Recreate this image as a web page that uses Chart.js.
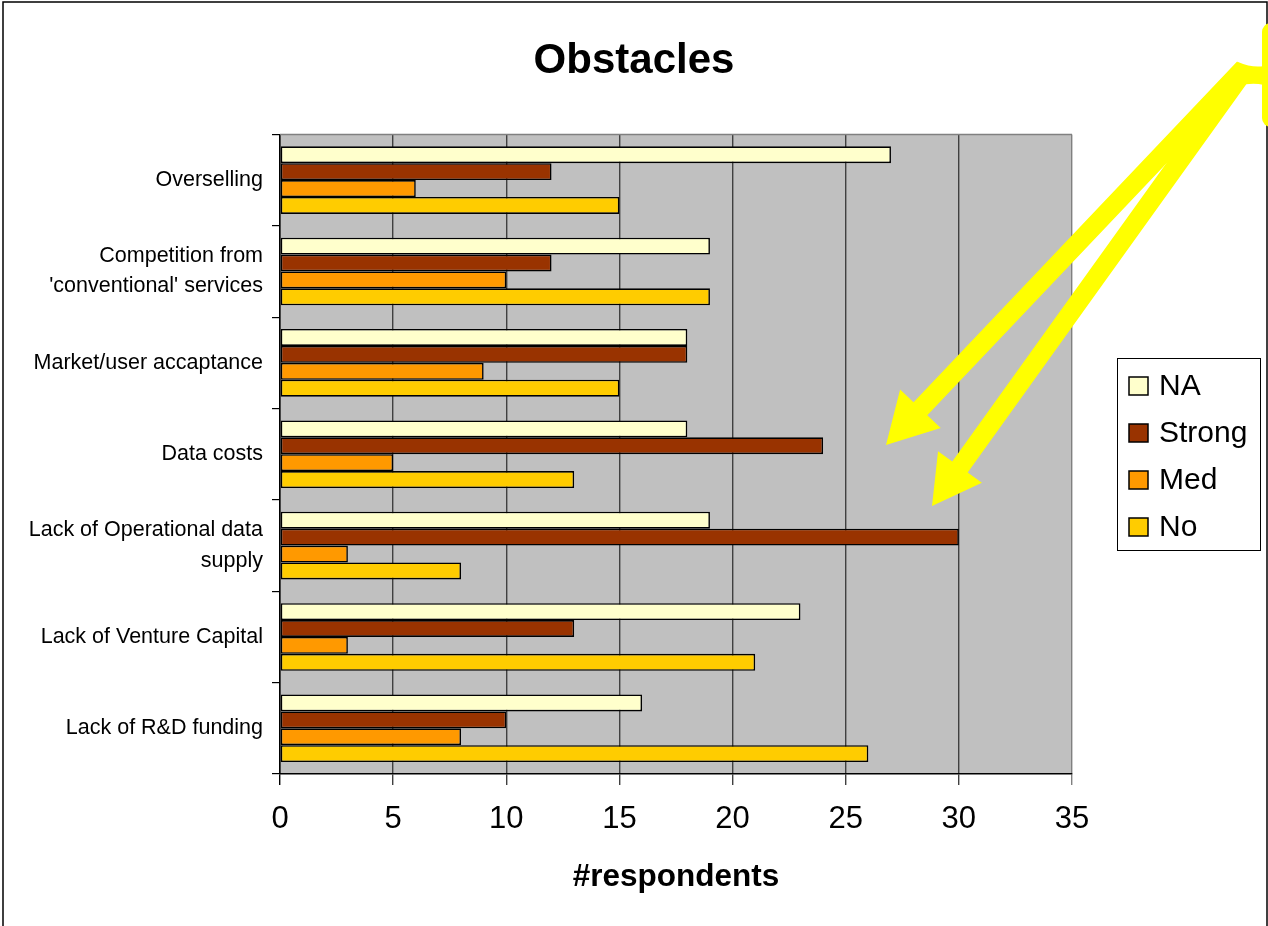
<!DOCTYPE html>
<html>
<head>
<meta charset="utf-8">
<title>Obstacles</title>
<script src="https://cdn.jsdelivr.net/npm/chart.js@4/dist/chart.umd.min.js"></script>
<style>
  html, body { margin: 0; padding: 0; background: #fff; }
  canvas { display: block; }
</style>
</head>
<body>
<canvas id="chart" width="1268" height="926"></canvas>
<script>
// Obstacles reported by respondents, counted per rating
const categories = [
  'Overselling',
  ['Competition from', "'conventional' services"],
  'Market/user accaptance',
  'Data costs',
  ['Lack of Operational data', 'supply'],
  'Lack of Venture Capital',
  'Lack of R&D funding'
];
const seriesNames = ['NA', 'Strong', 'Med', 'No'];
const naValues     = [27, 19, 18, 18, 19, 23, 16];
const strongValues = [12, 12, 18, 24, 30, 13, 10];
const medValues    = [ 6, 10,  9,  5,  3,  3,  8];
const noValues     = [15, 19, 15, 13,  8, 21, 26];
const xTicks = [0, 5, 10, 15, 20, 25, 30, 35];

const seriesColors = ['#FFFFCC', '#993300', '#FF9900', '#FFCC00'];
const FONT = "'Liberation Sans', Arial, Helvetica, sans-serif";

Chart.defaults.font.family = FONT;
Chart.defaults.color = '#000';

// Grey plot area, frame and page border
const frame = {
  id: 'frame',
  beforeDraw(chart) {
    const { ctx, chartArea: a } = chart;
    ctx.save();
    ctx.fillStyle = '#fff';
    ctx.fillRect(0, 0, chart.width, chart.height);
    ctx.fillStyle = '#C0C0C0';
    ctx.fillRect(a.left, a.top, a.right - a.left, a.bottom - a.top);
    ctx.restore();
  },
  beforeDatasetsDraw(chart) {
    const { ctx, chartArea: a } = chart;
    ctx.save();
    ctx.strokeStyle = '#808080';
    ctx.lineWidth = 1.5;
    ctx.beginPath();
    ctx.moveTo(a.left, a.top);
    ctx.lineTo(a.right, a.top);
    ctx.stroke();
    ctx.restore();
  },
  afterDraw(chart) {
    const { ctx } = chart;
    ctx.save();
    ctx.strokeStyle = '#000';
    ctx.lineWidth = 1.5;
    ctx.strokeRect(3, 2, chart.width - 4, chart.height + 10);
    ctx.restore();
  }
};

// Boxed legend on the right
const boxLegend = {
  id: 'boxLegend',
  afterDraw(chart) {
    const { ctx } = chart;
    const x = 1117.5, y = 358.5, w = 143, h = 192;
    ctx.save();
    ctx.fillStyle = '#fff';
    ctx.fillRect(x, y, w, h);
    ctx.strokeStyle = '#000';
    ctx.lineWidth = 1;
    ctx.strokeRect(x, y, w, h);
    ctx.font = '30px ' + FONT;
    ctx.textBaseline = 'middle';
    chart.data.datasets.forEach((ds, i) => {
      const cy = 386 + i * 47;
      ctx.fillStyle = ds.backgroundColor;
      ctx.fillRect(1129, cy - 9, 19, 18);
      ctx.lineWidth = 1.5;
      ctx.strokeStyle = '#000';
      ctx.strokeRect(1129, cy - 9, 19, 18);
      ctx.fillStyle = '#000';
      ctx.fillText(ds.label, 1159, cy + 1);
    });
    ctx.restore();
  }
};

// Yellow callout arrows pointing into the chart
function arrow(ctx, x0, y0, tx, ty, shaftW, headLen, headW) {
  const dx = tx - x0, dy = ty - y0;
  const len = Math.hypot(dx, dy);
  const ux = dx / len, uy = dy / len;
  const px = -uy, py = ux;
  const bx = tx - ux * headLen, by = ty - uy * headLen;
  ctx.beginPath();
  ctx.moveTo(x0 + px * shaftW / 2, y0 + py * shaftW / 2);
  ctx.lineTo(bx + px * shaftW / 2, by + py * shaftW / 2);
  ctx.lineTo(bx + px * headW / 2, by + py * headW / 2);
  ctx.lineTo(tx, ty);
  ctx.lineTo(bx - px * headW / 2, by - py * headW / 2);
  ctx.lineTo(bx - px * shaftW / 2, by - py * shaftW / 2);
  ctx.lineTo(x0 - px * shaftW / 2, y0 - py * shaftW / 2);
  ctx.closePath();
  ctx.fill();
}

const callout = {
  id: 'callout',
  afterDraw(chart) {
    const { ctx } = chart;
    ctx.save();
    ctx.fillStyle = '#FFFF00';
    // edge of the callout bubble
    ctx.beginPath();
    ctx.roundRect(1262, 23, 40, 104, 9);
    ctx.fill();
    // neck joining the bubble
    ctx.beginPath();
    ctx.moveTo(1238, 62);
    ctx.quadraticCurveTo(1252, 68, 1264, 66);
    ctx.lineTo(1264, 85);
    ctx.quadraticCurveTo(1252, 82, 1238, 86);
    ctx.closePath();
    ctx.fill();
    arrow(ctx, 1244, 68, 886, 445, 19, 50, 56);
    arrow(ctx, 1242, 74, 932, 506, 19, 48, 54);
    ctx.restore();
  }
};

const chart = new Chart(document.getElementById('chart'), {
  type: 'bar',
  data: {
    labels: categories,
    datasets: [naValues, strongValues, medValues, noValues].map((vals, i) => ({
      label: seriesNames[i],
      data: vals,
      backgroundColor: seriesColors[i],
      borderColor: '#000',
      borderWidth: 1.6,
      borderSkipped: false,
      categoryPercentage: 0.74,
      barPercentage: 1.0
    }))
  },
  options: {
    indexAxis: 'y',
    responsive: false,
    animation: false,
    layout: { padding: 0 },
    plugins: {
      legend: { display: false },
      tooltip: { enabled: false },
      title: {
        display: true,
        text: 'Obstacles',
        color: '#000',
        font: { size: 42, weight: 'bold', lineHeight: 1.2 },
        padding: { top: 36, bottom: 48 }
      }
    },
    scales: {
      x: {
        type: 'linear',
        min: 0,
        max: 35,
        afterBuildTicks(scale) {
          scale.ticks = xTicks.map(v => ({ value: v }));
        },
        afterFit(scale) { scale.height = 152; },
        grid: {
          color: ctx => (ctx.tick && ctx.tick.value === 35) ? '#808080' : '#404040',
          tickColor: ctx => (ctx.tick && ctx.tick.value === 0) ? '#000' : (ctx.tick && ctx.tick.value === 35 ? '#808080' : '#404040'),
          lineWidth: 1.4,
          tickLength: 11,
          drawTicks: true
        },
        border: { color: '#000', width: 1.5 },
        ticks: {
          color: '#000',
          padding: 16,
          font: { size: 31 }
        },
        title: {
          display: true,
          text: '#respondents',
          color: '#000',
          font: { size: 31.5, weight: 'bold', lineHeight: 1.2 },
          padding: { top: 0, bottom: 30 }
        }
      },
      y: {
        type: 'category',
        afterFit(scale) { scale.width = 280; },
        grid: {
          offset: true,
          drawOnChartArea: false,
          color: '#000',
          tickLength: 8,
          lineWidth: 1.2
        },
        border: { color: '#000', width: 1.5 },
        ticks: {
          color: '#000',
          padding: 9,
          autoSkip: false,
          font: { size: 21.5, lineHeight: 1.4 }
        }
      },
      // empty strip on the right that holds the legend
      side: {
        type: 'category',
        position: 'right',
        afterFit(scale) { scale.width = 196; },
        grid: { display: false },
        border: { display: false },
        ticks: { display: false }
      }
    }
  },
  plugins: [frame, boxLegend, callout]
});
</script>
</body>
</html>
